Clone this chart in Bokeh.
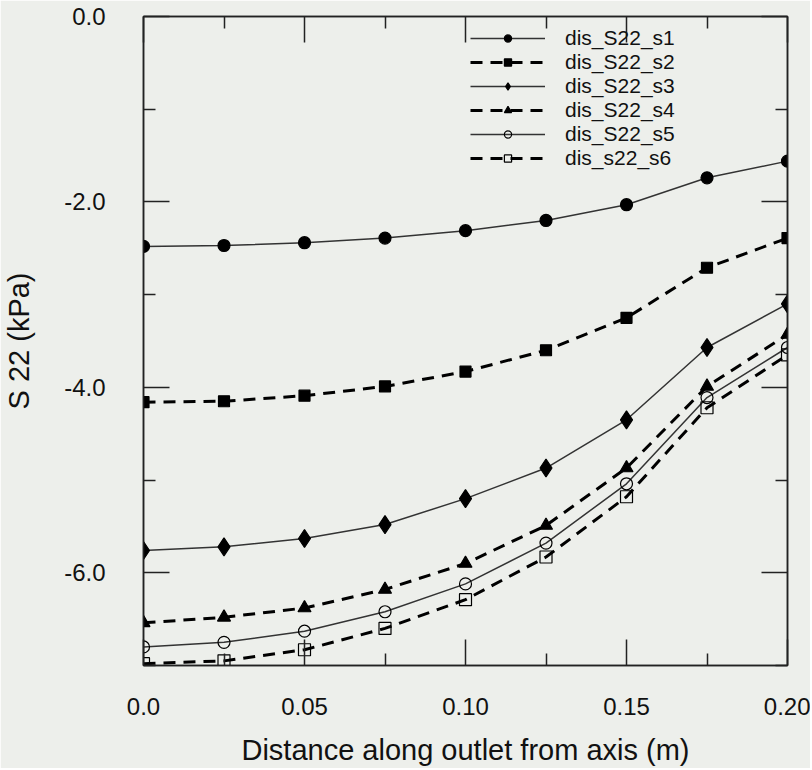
from bokeh.plotting import figure
from bokeh.models import LinearAxis, FixedTicker, Legend, LegendItem, Range1d
from bokeh.embed import file_html
from bokeh.resources import INLINE

# ---- data ----
x = [0.0, 0.025, 0.05, 0.075, 0.1, 0.125, 0.15, 0.175, 0.2]
s1 = [-2.48, -2.47, -2.44, -2.39, -2.31, -2.20, -2.03, -1.74, -1.56]
s2 = [-4.16, -4.15, -4.09, -3.99, -3.83, -3.60, -3.25, -2.71, -2.39]
s3 = [-5.76, -5.72, -5.63, -5.48, -5.20, -4.87, -4.35, -3.57, -3.10]
s4 = [-6.54, -6.48, -6.38, -6.18, -5.90, -5.49, -4.87, -3.99, -3.43]
s5 = [-6.80, -6.75, -6.63, -6.42, -6.12, -5.68, -5.04, -4.11, -3.57]
s6 = [-6.98, -6.95, -6.83, -6.60, -6.29, -5.83, -5.18, -4.22, -3.65]
names = ["dis_S22_s1", "dis_S22_s2", "dis_S22_s3", "dis_S22_s4", "dis_S22_s5", "dis_s22_s6"]

x_major = [0.0, 0.05, 0.1, 0.15, 0.2]
x_minor = [0.025, 0.075, 0.125, 0.175]
x_tick_labels = ["0.0", "0.05", "0.10", "0.15", "0.20"]
y_major = [0.0, -2.0, -4.0, -6.0]
y_minor = [-1.0, -3.0, -5.0, -7.0]
y_tick_labels = ["0.0", "-2.0", "-4.0", "-6.0"]

BG = "#edefeb"
FONT = "Liberation Sans"
INK = "#222222"

p = figure(width=810, height=768, x_range=Range1d(0, 0.2), y_range=Range1d(-7, 0),
           output_backend="svg", toolbar_location=None,
           x_axis_location=None, y_axis_location=None,
           min_border_left=143, min_border_right=23, min_border_top=16, min_border_bottom=103,
           background_fill_color=BG, border_fill_color=BG)
p.grid.visible = False
p.outline_line_color = INK
p.outline_line_width = 1.5

xt = FixedTicker(ticks=x_major, minor_ticks=x_minor)
yt = FixedTicker(ticks=y_major, minor_ticks=y_minor)


def style(ax, labels):
    ax.axis_line_color = INK
    ax.axis_line_width = 1.5
    ax.major_tick_line_color = INK
    ax.minor_tick_line_color = INK
    ax.major_tick_line_width = 1.5
    ax.minor_tick_line_width = 1.5
    ax.major_tick_in = 26
    ax.major_tick_out = 0
    ax.minor_tick_in = 12
    ax.minor_tick_out = 0
    ax.major_label_text_font = FONT
    ax.major_label_text_font_size = "24px"
    ax.major_label_text_color = "#111111"
    if labels:
        ax.axis_label_text_font = FONT
        ax.axis_label_text_font_size = "29px"
        ax.axis_label_text_font_style = "normal"
        ax.axis_label_text_color = "#111111"
    else:
        ax.major_label_standoff = 0


bottom = LinearAxis(ticker=xt, axis_label="Distance along outlet from axis (m)",
                    major_label_overrides={v: t for v, t in zip(x_major, x_tick_labels)})
style(bottom, True)
bottom.major_label_standoff = 32
bottom.axis_label_standoff = 16
p.add_layout(bottom, "below")

left = LinearAxis(ticker=yt, axis_label="S 22 (kPa)",
                  major_label_overrides={v: t for v, t in zip(y_major, y_tick_labels)})
style(left, True)
left.major_label_standoff = 38
left.axis_label_standoff = 26
p.add_layout(left, "left")

top = LinearAxis(ticker=xt, major_label_overrides={v: "" for v in x_major})
style(top, False)
p.add_layout(top, "above")
right = LinearAxis(ticker=yt, major_label_overrides={v: "" for v in y_major})
style(right, False)
p.add_layout(right, "right")

series = [s1, s2, s3, s4, s5, s6]
markers = ["circle", "square", "diamond", "triangle", "circle", "square"]
sizes = [12, 11, 18, 13, 12, 12]
filled = [True, True, True, True, False, False]
dashed = [False, True, False, True, False, True]

items = []
for ys, nm, mk, sz, fl, ds in zip(series, names, markers, sizes, filled, dashed):
    if ds:
        ln = p.line(x, ys, line_color="black", line_width=3, line_dash="12 8")
    else:
        ln = p.line(x, ys, line_color="#333333", line_width=1.5)
    sc = p.scatter(x, ys, marker=mk, size=sz, line_color="black", line_width=1.2,
                   fill_color="black" if fl else None)
    items.append(LegendItem(label=nm, renderers=[ln, sc]))

legend = Legend(items=items, location=(327, 495), background_fill_alpha=0,
                border_line_color=None, padding=0, margin=0, spacing=0,
                glyph_width=75, glyph_height=18, label_height=18, label_standoff=20,
                label_text_font=FONT, label_text_font_size="21px", label_text_color="#111111")
p.add_layout(legend)

html = file_html(p, INLINE)
html = html.replace("<body>", '<body style="background:%s">' % BG, 1)
open("out.html", "w").write(html)
